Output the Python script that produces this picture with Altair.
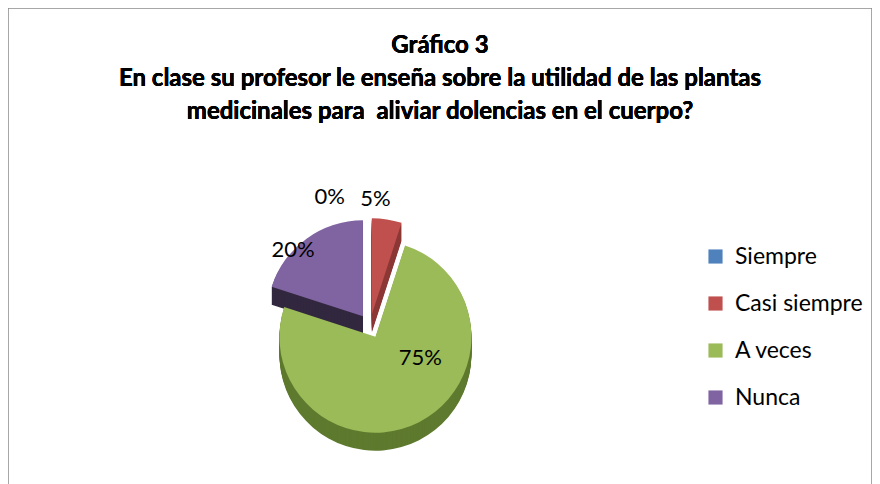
import math
import altair as alt
import pandas as pd

# ---- data ----
TITLE_LINES = [
    "Gráfico 3",
    "En clase su profesor le enseña sobre la utilidad de las plantas",
    "medicinales para \u00a0aliviar dolencias en el cuerpo?",
]
categories = ["Siempre", "Casi siempre", "A veces", "Nunca"]
values = [0, 5, 75, 20]
labels = ["0%", "5%", "75%", "20%"]

# ---- styles / layout ----
colors = ["#4F81BD", "#C0504D", "#9BBB59", "#8064A2"]
side_colors = ["#2E4E75", "#8C3836", "#5E7A2E", "#32283F"]
W, H = 864, 480
CX, CY, R, DEPTH, EXPLODE = 362, 318, 96, 18, 12
FONT = "Lato"
label_layout = {  # radius, align, dx
    "Siempre": (R + 21, "right", -25),
    "Casi siempre": (R + 21, "left", -30),
    "A veces": (0.25 * R, "center", 34),
    "Nunca": (0.85 * R, "center", -22),
}

df = pd.DataFrame({"cat": categories, "val": values, "label": labels,
                   "order": list(range(len(categories)))})

base = (
    alt.Chart(df)
    .transform_window(cum="sum(val)", sort=[alt.SortField("order")])
    .transform_joinaggregate(total="sum(val)")
    .transform_calculate(
        t1="datum.cum / datum.total * 100",
        t0="(datum.cum - datum.val) / datum.total * 100",
        mid="(datum.cum - datum.val / 2) / datum.total * 2 * PI",
    )
    .transform_calculate(
        px=f"{CX} + {EXPLODE} * sin(datum.mid)",
        py=f"{CY} - {EXPLODE} * cos(datum.mid)",
    )
)

theta = alt.Theta("t0:Q", scale=alt.Scale(domain=[0, 100], range=[0, 2 * math.pi]))
theta2 = alt.Theta2("t1:Q")
xpos = alt.X("px:Q", scale=None, axis=None)
ypos = alt.Y("py:Q", scale=None, axis=None)

layers = []
for k in range(DEPTH, 0, -1):
    layers.append(
        base.mark_arc(outerRadius=R, yOffset=k).encode(
            x=xpos, y=ypos, theta=theta, theta2=theta2,
            color=alt.Color("cat:N", scale=alt.Scale(domain=categories, range=side_colors), legend=None),
        )
    )

top = base.mark_arc(outerRadius=R).encode(
    x=xpos, y=ypos, theta=theta, theta2=theta2,
    color=alt.Color(
        "cat:N",
        scale=alt.Scale(domain=categories, range=colors),
        legend=alt.Legend(
            title=None, orient="none", legendX=696, legendY=237,
            symbolType="square", symbolSize=200, symbolStrokeWidth=0,
            labelFont=FONT, labelFontSize=23, labelColor="black",
            rowPadding=23, labelOffset=8,
        ),
    ),
)
layers.append(top)

for cat, (lr, align, dx) in label_layout.items():
    layers.append(
        base.transform_filter(alt.datum.cat == cat)
        .transform_calculate(
            lx=f"datum.px + {lr} * sin(datum.mid)",
            ly=f"datum.py - {lr} * cos(datum.mid)",
        )
        .mark_text(font=FONT, fontSize=22, color="black", align=align, dx=dx, baseline="middle")
        .encode(x=alt.X("lx:Q", scale=None, axis=None), y=alt.Y("ly:Q", scale=None, axis=None), text="label:N")
    )

title = alt.Chart(df).mark_text(
    text=TITLE_LINES, font=FONT, fontSize=24, fontWeight="bold", color="black",
    lineHeight=33, baseline="top", align="center",
).encode(x=alt.value(432), y=alt.value(26))
layers.append(title)

chart = (
    alt.layer(*layers)
    .resolve_scale(color="independent")
    .properties(width=W, height=H, padding=0, autosize="none", background="white")
    .configure_view(stroke="#8a8a8a", strokeWidth=1.5)
)

chart.save("out.html", embed_options={"renderer": "svg", "actions": False})
